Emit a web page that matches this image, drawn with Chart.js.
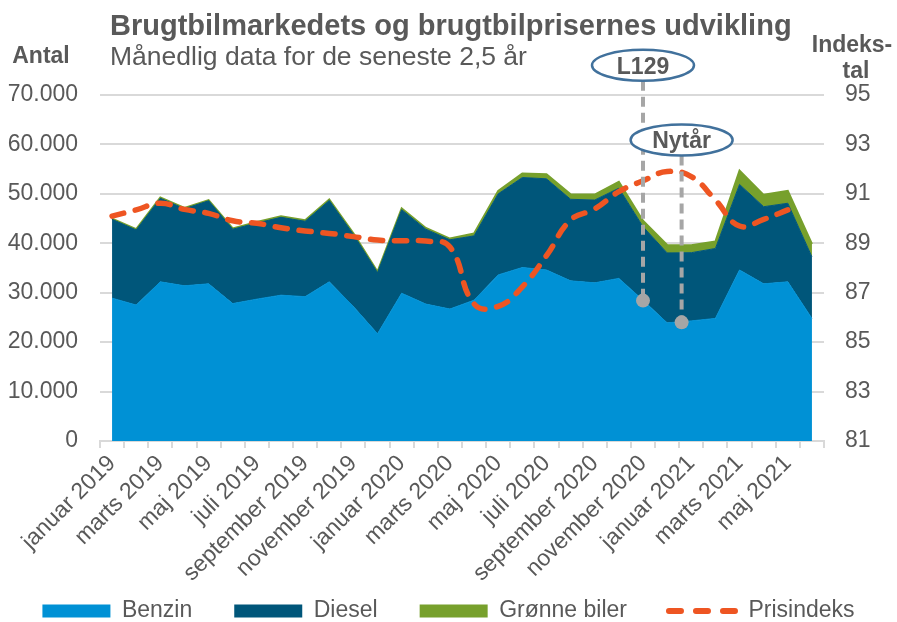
<!DOCTYPE html>
<html>
<head>
<meta charset="utf-8">
<script src="https://cdn.jsdelivr.net/npm/chart.js@4.4.1/dist/chart.umd.min.js"></script>
<style>
  html, body { margin: 0; padding: 0; background: #fff; }
</style>
</head>
<body>
<canvas id="chart_Brugtbil" width="897" height="622"></canvas>
<script>

const months = [
    "januar 2019", "februar 2019", "marts 2019", "april 2019", "maj 2019", "juni 2019",
    "juli 2019", "august 2019", "september 2019", "oktober 2019", "november 2019", "december 2019",
    "januar 2020", "februar 2020", "marts 2020", "april 2020", "maj 2020", "juni 2020",
    "juli 2020", "august 2020", "september 2020", "oktober 2020", "november 2020", "december 2020",
    "januar 2021", "februar 2021", "marts 2021", "april 2021", "maj 2021", "juni 2021"
];

const benzin = [28900, 27500, 32200, 31400, 31800, 27800, 28700, 29500, 29200, 32200, 27200, 21700,
    29900, 27700, 26700, 28500, 33600, 35100, 34600, 32400, 32000, 32900, 28500, 23900,
    24300, 24800, 34600, 31800, 32200, 24800];

const diesel = [15950, 15200, 16900, 15600, 16800, 15050, 15400, 15750, 15250, 16450, 14600, 12350,
    16900, 15150, 14000, 13000, 16400, 18200, 18450, 16500, 16750, 18250, 14850, 14150,
    13800, 14150, 17300, 15600, 15900, 12450];

const groenne = [150, 150, 150, 150, 150, 150, 200, 200, 200, 200, 200, 200,
    250, 250, 250, 500, 600, 800, 900, 1000, 1100, 1300, 1200, 1600,
    1500, 1400, 2800, 2400, 2500, 2600];

const prisindeks = [90.1, 90.35, 90.62, 90.37, 90.21, 89.91, 89.81, 89.63, 89.5, 89.4, 89.27, 89.13,
    89.1, 89.09, 88.85, 86.55, 86.45, 87.24, 88.5, 89.94, 90.39, 91.09, 91.53, 91.9,
    91.7, 90.75, 89.7, 89.97, 90.35, null];

const leftTicks = [0, 70000, 10000];   // min, max, step
const rightTicks = [81, 95, 2];

// markers: label, month index (fractional), value on the "Antal" axis
const markLabels = ["L129", "Nytår"];
const markMonth = [22, 23.6];
const markValue = [28400, 24000];

const FONT = '"Liberation Sans", Arial, sans-serif';
const GREY = '#595959';
Chart.defaults.font.family = FONT;
Chart.defaults.color = GREY;

const fmtThousands = v => String(v).replace(/\B(?=(\d{3})+(?!\d))/g, '.');

// header texts and the horizontal axis titles
const headerText = {
    id: 'headerText',
    afterDraw(chart) {
        const ctx = chart.ctx;
        ctx.save();
        ctx.fillStyle = GREY;
        ctx.textBaseline = 'alphabetic';
        ctx.textAlign = 'left';
        ctx.font = 'bold 29px ' + FONT;
        ctx.fillText('Brugtbilmarkedets og brugtbilprisernes udvikling', 110, 35);
        ctx.font = '26.5px ' + FONT;
        ctx.fillText('Månedlig data for de seneste 2,5 år', 110, 65);
        ctx.font = 'bold 23px ' + FONT;
        ctx.textAlign = 'center';
        ctx.fillText('Antal', 41, 63);
        ctx.fillText('Indeks-', 852, 52);
        ctx.fillText('tal', 856, 78);
        ctx.restore();
    }
};

// L129 / Nytår call-outs
const markers = {
    id: 'markers',
    afterDatasetsDraw(chart, args, opts) {
        const {ctx, scales: {x, y}} = chart;
        const x0 = x.getPixelForValue(0);
        const step = x.getPixelForValue(1) - x0;
        markLabels.forEach((label, i) => {
            const px = x0 + step * markMonth[i];
            const py = y.getPixelForValue(markValue[i]);
            const ey = y.getPixelForValue(opts.labelAt[i]);
            ctx.save();
            ctx.strokeStyle = '#a6a6a6';
            ctx.lineWidth = 4;
            ctx.setLineDash([10, 6]);
            ctx.beginPath();
            ctx.moveTo(px, ey + opts.ry);
            ctx.lineTo(px, py);
            ctx.stroke();
            ctx.setLineDash([]);
            ctx.fillStyle = '#a6a6a6';
            ctx.beginPath();
            ctx.arc(px, py, 7, 0, Math.PI * 2);
            ctx.fill();
            ctx.beginPath();
            ctx.ellipse(px, ey, opts.rx, opts.ry, 0, 0, Math.PI * 2);
            ctx.fillStyle = '#ffffff';
            ctx.fill();
            ctx.strokeStyle = '#41719c';
            ctx.lineWidth = 2.5;
            ctx.stroke();
            ctx.fillStyle = GREY;
            ctx.font = 'bold 23px ' + FONT;
            ctx.textAlign = 'center';
            ctx.textBaseline = 'middle';
            ctx.fillText(label, px, ey + 2);
            ctx.restore();
        });
    }
};

const areaColors = ['#0091d5', '#00567a', '#77a02c'];

const config_Brugtbil = {
    type: 'line',
    data: {
        labels: months,
        datasets: [
            {
                label: 'Benzin',
                data: benzin,
                yAxisID: 'y',
                backgroundColor: areaColors[0],
                borderColor: areaColors[0],
                borderWidth: 1,
                fill: 'origin',
                pointRadius: 0,
                order: 1
            },
            {
                label: 'Diesel',
                data: diesel,
                yAxisID: 'y',
                backgroundColor: areaColors[1],
                borderColor: areaColors[1],
                borderWidth: 1,
                fill: '-1',
                pointRadius: 0,
                order: 1
            },
            {
                label: 'Grønne biler',
                data: groenne,
                yAxisID: 'y',
                backgroundColor: areaColors[2],
                borderColor: areaColors[2],
                borderWidth: 2,
                fill: '-1',
                pointRadius: 0,
                order: 1
            },
            {
                label: 'Prisindeks',
                data: prisindeks,
                yAxisID: 'y1',
                borderColor: '#ee5522',
                backgroundColor: '#ee5522',
                borderWidth: 5.5,
                borderDash: [12, 12],
                borderCapStyle: 'round',
                fill: false,
                pointRadius: 0,
                tension: 0.45,
                order: 0
            }
        ]
    },
    options: {
        responsive: false,
        animation: false,
        devicePixelRatio: 1,
        layout: {
            padding: { top: 95, bottom: -10.5, left: 0, right: 0 }
        },
        plugins: {
            tooltip: { enabled: false },
            markers: { labelAt: [76000, 60900], rx: 51, ry: 15.5 },
            legend: {
                position: 'bottom',
                labels: {
                    usePointStyle: true,
                    pointStyleWidth: 68,
                    boxHeight: 13,
                    padding: 42,
                    color: GREY,
                    font: { size: 23 },
                    generateLabels(chart) {
                        return chart.data.datasets.map((ds, i) => ({
                            text: ds.label,
                            datasetIndex: i,
                            hidden: false,
                            fontColor: GREY,
                            fillStyle: i < 3 ? ds.backgroundColor : 'rgba(0,0,0,0)',
                            strokeStyle: i < 3 ? ds.backgroundColor : ds.borderColor,
                            lineWidth: i < 3 ? 0 : 6,
                            lineDash: i < 3 ? [] : [12, 15],
                            lineCap: 'round',
                            pointStyle: i < 3 ? 'rect' : 'line'
                        }));
                    }
                }
            }
        },
        scales: {
            x: {
                offset: true,
                grid: {
                    offset: true,
                    drawOnChartArea: false,
                    drawTicks: true,
                    tickLength: 7,
                    color: '#d9d9d9',
                    lineWidth: 2
                },
                border: { color: '#d9d9d9', width: 2 },
                ticks: {
                    autoSkip: false,
                    minRotation: 45,
                    maxRotation: 45,
                    padding: 2,
                    font: { size: 23 },
                    callback(value, index) {
                        return index % 2 === 0 ? months[index] : '';
                    }
                },
                afterFit(scale) {
                    scale.height = 116.5;
                    // the rotated labels reach below the axis box; do not clip them
                    scale._computeLabelArea = () => undefined;
                }
            },
            y: {
                position: 'left',
                stacked: true,
                min: leftTicks[0],
                max: leftTicks[1],
                grid: { color: '#d9d9d9', lineWidth: 2, drawTicks: false },
                border: { display: false },
                ticks: {
                    stepSize: leftTicks[2],
                    padding: 22,
                    font: { size: 23 },
                    callback: v => fmtThousands(v)
                },
                afterFit(scale) { scale.width = 100; }
            },
            y1: {
                position: 'right',
                min: rightTicks[0],
                max: rightTicks[1],
                grid: { drawOnChartArea: false, drawTicks: false },
                border: { display: false },
                ticks: {
                    stepSize: rightTicks[2],
                    padding: 21,
                    font: { size: 23 }
                },
                afterFit(scale) { scale.width = 73; }
            }
        }
    },
    plugins: [headerText, markers]
};

const ctx_Brugtbil = document.getElementById('chart_Brugtbil').getContext('2d');
const myChart_Brugtbil = new Chart(ctx_Brugtbil, config_Brugtbil);
</script>
</body>
</html>
